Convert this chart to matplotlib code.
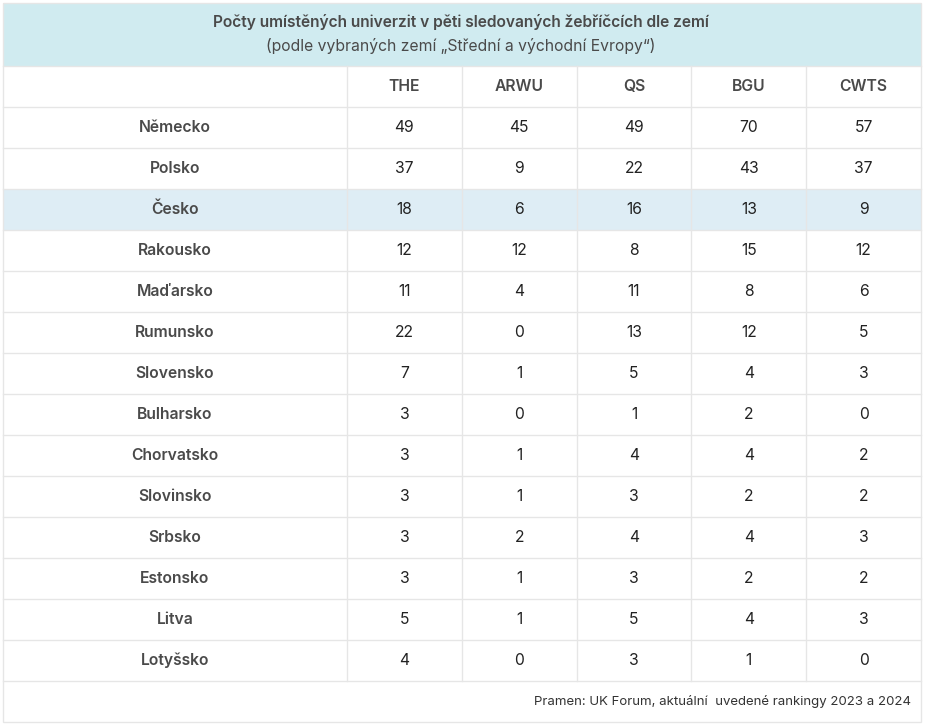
import matplotlib.pyplot as plt
from matplotlib.patches import Rectangle

plt.rcParams['font.family'] = ['Inter', 'DejaVu Sans']

TITLE = "Počty umístěných univerzit v pěti sledovaných žebříčcích dle zemí"
SUBTITLE = "(podle vybraných zemí „Střední a východní Evropy“)"
SOURCE = "Pramen: UK Forum, aktuální  uvedené rankingy 2023 a 2024"

columns = ["THE", "ARWU", "QS", "BGU", "CWTS"]
countries = ["Německo", "Polsko", "Česko", "Rakousko", "Maďarsko", "Rumunsko",
             "Slovensko", "Bulharsko", "Chorvatsko", "Slovinsko", "Srbsko",
             "Estonsko", "Litva", "Lotyšsko"]
the_vals = [49, 37, 18, 12, 11, 22, 7, 3, 3, 3, 3, 3, 5, 4]
arwu_vals = [45, 9, 6, 12, 4, 0, 1, 0, 1, 1, 2, 1, 1, 0]
qs_vals = [49, 22, 16, 8, 11, 13, 5, 1, 4, 3, 4, 3, 5, 3]
bgu_vals = [70, 43, 13, 15, 8, 12, 4, 2, 4, 2, 4, 2, 4, 1]
cwts_vals = [57, 37, 9, 12, 6, 5, 3, 0, 2, 2, 3, 2, 3, 0]
highlight = "Česko"

# layout in pixels
W, H = 926, 726
left, right = 3, 921
top = 3
head_h = 63
row_h = 41
first_col_w = 344
col_w = (right - left - first_col_w) / len(columns)

fig = plt.figure(figsize=(W / 100, H / 100), dpi=100)
ax = fig.add_axes([0, 0, 1, 1])
ax.set_xlim(0, W)
ax.set_ylim(H, 0)
ax.axis("off")

line_c = "#e6e6e6"
text_c = "#4a4a4a"
num_c = "#222222"
fs = 11.3

# header band
ax.add_patch(Rectangle((left, top), right - left, head_h, facecolor="#d0ebf0", edgecolor="none"))
ax.text(W / 2 - 2, top + 19, TITLE, ha="center", va="center", fontsize=11.2, fontweight="semibold", color=text_c)
ax.text(W / 2 - 2, top + 43, SUBTITLE, ha="center", va="center", fontsize=fs, color=text_c)

values = list(zip(the_vals, arwu_vals, qs_vals, bgu_vals, cwts_vals))
y0 = top + head_h
n_rows = len(countries) + 1  # column header + country rows

# highlighted row
hi = countries.index(highlight) + 1
ax.add_patch(Rectangle((left, y0 + hi * row_h), right - left, row_h, facecolor="#deedf5", edgecolor="none"))

# column header
for j, c in enumerate(columns):
    cx = left + first_col_w + (j + 0.5) * col_w
    ax.text(cx, y0 + row_h / 2, c, ha="center", va="center", fontsize=fs, fontweight="semibold", color=text_c)

for i, (name, vals) in enumerate(zip(countries, values)):
    cy = y0 + (i + 1.5) * row_h
    ax.text(left + first_col_w / 2, cy, name, ha="center", va="center", fontsize=fs,
            fontweight="semibold", color=text_c)
    for j, v in enumerate(vals):
        cx = left + first_col_w + (j + 0.5) * col_w
        ax.text(cx, cy, str(v), ha="center", va="center", fontsize=fs, color=num_c)

# grid lines
y_end = y0 + n_rows * row_h
for k in range(n_rows + 1):
    ax.plot([left, right], [y0 + k * row_h] * 2, color=line_c, lw=1)
for j in range(len(columns)):
    x = left + first_col_w + j * col_w
    ax.plot([x, x], [y0, y_end], color=line_c, lw=1)

# footer
foot_y = y_end + row_h
ax.text(right - 10, y_end + row_h / 2, SOURCE, ha="right", va="center", fontsize=9.5, color="#333333")

# outer border
ax.add_patch(Rectangle((left, top), right - left, foot_y - top, facecolor="none", edgecolor=line_c, lw=1))

fig.savefig("out.png", dpi=100)
